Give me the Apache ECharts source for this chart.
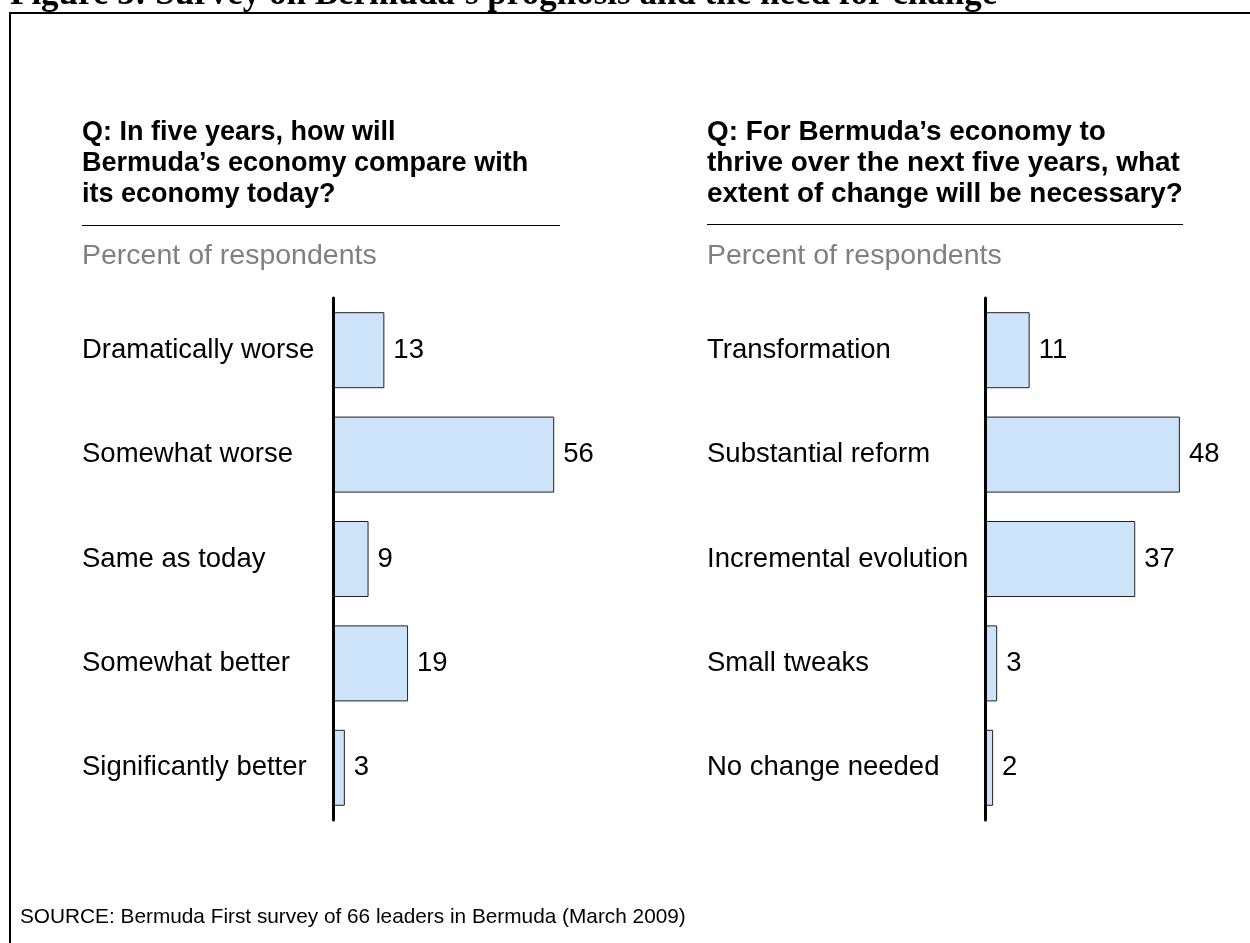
<!DOCTYPE html>
<html>
<head>
<meta charset="utf-8">
<title>Survey on Bermuda's prognosis and the need for change</title>
<script src="https://cdn.jsdelivr.net/npm/echarts@6/dist/echarts.min.js"></script>
<style>
  html, body { margin: 0; padding: 0; background: #fff; }
  #chart { width: 1250px; height: 943px; }
</style>
</head>
<body>
<div id="chart"></div>
<script>
// Survey results (percent of respondents)
const outlookCategories = ['Dramatically worse', 'Somewhat worse', 'Same as today', 'Somewhat better', 'Significantly better'];
const outlookValues = [13, 56, 9, 19, 3];

const changeCategories = ['Transformation', 'Substantial reform', 'Incremental evolution', 'Small tweaks', 'No change needed'];
const changeValues = [11, 48, 37, 3, 2];

const figureTitle = 'Figure 3: Survey on Bermuda\u2019s prognosis and the need for change';
const outlookQuestion = 'Q: In five years, how will\nBermuda\u2019s economy compare with\nits economy today?';
const changeQuestion = 'Q: For Bermuda\u2019s economy to\nthrive over the next five years, what\nextent of change will be necessary?';
const unitNote = 'Percent of respondents';
const sourceNote = 'SOURCE: Bermuda First survey of 66 leaders in Bermuda (March 2009)';

const SANS = '"Liberation Sans", Arial, Helvetica, sans-serif';
const SERIF = '"Liberation Serif", "Times New Roman", serif';

const chart = echarts.init(document.getElementById('chart'), null, { renderer: 'canvas' });

function categoryAxis(gridIndex, categories, margin) {
  return {
    type: 'category',
    gridIndex: gridIndex,
    data: categories,
    inverse: true,
    z: 5,
    axisLine: { show: true, lineStyle: { color: '#000', width: 3 } },
    axisTick: { show: false },
    splitLine: { show: false },
    axisLabel: {
      align: 'left',
      margin: margin,
      color: '#000',
      fontSize: 27.5,
      fontFamily: SANS
    }
  };
}

function valueAxis(gridIndex) {
  return { type: 'value', gridIndex: gridIndex, min: 0, max: 60, show: false };
}

function barSeries(index, values) {
  return {
    type: 'bar',
    xAxisIndex: index,
    yAxisIndex: index,
    data: values,
    barWidth: 76,
    itemStyle: { color: '#cce3fa', borderColor: '#222', borderWidth: 1 },
    label: {
      show: true,
      position: 'right',
      distance: 9,
      color: '#000',
      fontSize: 27.5,
      fontFamily: SANS
    },
    silent: true
  };
}

function headerBlock(x, question, lineEnd, lineY, qSize) {
  return [
    {
      type: 'text', left: x, top: 117,
      style: { text: question, font: 'bold ' + qSize + 'px ' + SANS, fill: '#000', lineHeight: 31 }
    },
    {
      type: 'line',
      shape: { x1: x, y1: lineY, x2: lineEnd, y2: lineY },
      style: { stroke: '#000', lineWidth: 1 }
    },
    {
      type: 'text', left: x, top: 242,
      style: { text: unitNote, font: '28.5px ' + SANS, fill: '#808080' }
    }
  ];
}

const option = {
  backgroundColor: '#fff',
  animation: false,
  grid: [
    { left: 333, top: 298, width: 237, height: 522 },
    { left: 985, top: 298, width: 243.6, height: 522 }
  ],
  xAxis: [valueAxis(0), valueAxis(1)],
  yAxis: [
    categoryAxis(0, outlookCategories, 251),
    categoryAxis(1, changeCategories, 278)
  ],
  series: [barSeries(0, outlookValues), barSeries(1, changeValues)],
  graphic: [
    {
      type: 'rect',
      shape: { x: 10, y: 13, width: 1400, height: 1100 },
      style: { fill: null, stroke: '#000', lineWidth: 2 },
      silent: true
    },
    {
      type: 'text', x: 10, y: -5,
      style: { text: figureTitle, font: 'bold 35px ' + SERIF, fill: '#000', verticalAlign: 'middle' }
    },
    ...headerBlock(82, outlookQuestion, 560, 225.5, 27),
    ...headerBlock(707, changeQuestion, 1183, 224.5, 27.9),
    {
      type: 'text', left: 20, top: 907,
      style: { text: sourceNote, font: '20.8px ' + SANS, fill: '#000' }
    }
  ]
};

chart.setOption(option);
</script>
</body>
</html>
